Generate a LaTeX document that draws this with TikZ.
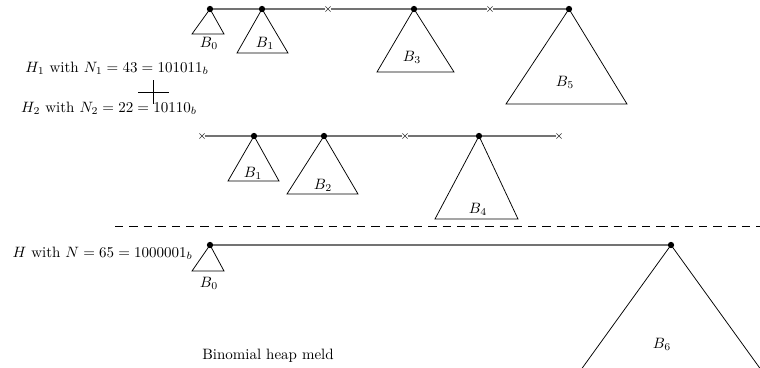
\documentclass[tikz,border=0pt]{standalone}
\usetikzlibrary{shapes.misc,positioning}
\begin{document}
\begin{tikzpicture}[x=0.6667pt,y=-0.6667pt,
  root/.style={circle,fill=black,inner sep=0pt,minimum size=4.2pt},
  gap/.style={cross out,draw=black!80,inner sep=0pt,minimum size=3pt,line width=0.4pt},
  list/.style={draw=black!55,line width=0.8pt},
  tree/.style={draw=black,line width=0.5pt},
  lbl/.style={inner sep=1pt}]
\useasboundingbox (0,0) rectangle (760,367);
\clip (0,0) rectangle (760,367);

% H1 = B0 B1 B3 B5
\node[root] (a0) at (210,9) {};
\node[root] (a1) at (262,9) {};
\node[gap]  (a2) at (328,9) {};
\node[root] (a3) at (414,9) {};
\node[gap]  (a4) at (490,9) {};
\node[root] (a5) at (569,9) {};
\draw[list] (a0) -- (a1) -- (a2) -- (a3) -- (a4) -- (a5);
\draw[tree] (a0.center) -- ++(-18,25) -- ++(32,0) -- cycle;
\draw[tree] (a1.center) -- ++(-25,44) -- ++(51,0) -- cycle;
\draw[tree] (a3.center) -- ++(-37,63) -- ++(77,0) -- cycle;
\draw[tree] (a5.center) -- ++(-63,95) -- ++(121,0) -- cycle;
\node[lbl] (la0) at (209,43) {$B_0$};
\node[lbl] (la1) at (265,43) {$B_1$};
\node[lbl] (la3) at (412,57) {$B_3$};
\node[lbl] (la5) at (565,82) {$B_5$};

\node (h1) at (117,68) {$H_1$ with $N_1=43=101011_b$};
\node (h2) at (109,108) {$H_2$ with $N_2=22=10110_b$};
\draw (138,92) -- (169,92) (153,80) -- (153,104);

% H2 = B1 B2 B4
\node[gap]  (b0) at (202,136) {};
\node[root] (b1) at (254,136) {};
\node[root] (b2) at (324,136) {};
\node[gap]  (b3) at (405,136) {};
\node[root] (b4) at (479,136) {};
\node[gap]  (b5) at (559,136) {};
\draw[list] (b0) -- (b1) -- (b2) -- (b3) -- (b4) -- (b5);
\draw[tree] (b1.center) -- ++(-26,45) -- ++(51,0) -- cycle;
\draw[tree] (b2.center) -- ++(-37,58) -- ++(71,0) -- cycle;
\draw[tree] (b4.center) -- ++(-44,83) -- ++(83,0) -- cycle;
\node[lbl] (lb1) at (253,173) {$B_1$};
\node[lbl] (lb2) at (323,185) {$B_2$};
\node[lbl] (lb4) at (478,209) {$B_4$};

\draw[dashed,dash pattern=on 5.5pt off 4pt] (115,226) -- (760,226);

% H = B0 B6
\node[anchor=east] (h) at (198,253) {$H$ with $N=65=1000001_b$};
\node[root] (c0) at (210,245) {};
\node[root] (c6) at (671,245) {};
\draw[list] (c0) -- (c6);
\draw[tree] (c0.center) -- ++(-18,26) -- ++(32,0) -- cycle;
\draw[tree] (c6.center) -- ++(-101,140) (c6.center) -- ++(101,140);
\node[lbl] (lc0) at (209,283) {$B_0$};
\node[lbl] (lc6) at (662,344) {$B_6$};

\node (cap) at (268,356) {Binomial heap meld};
\end{tikzpicture}
\end{document}
